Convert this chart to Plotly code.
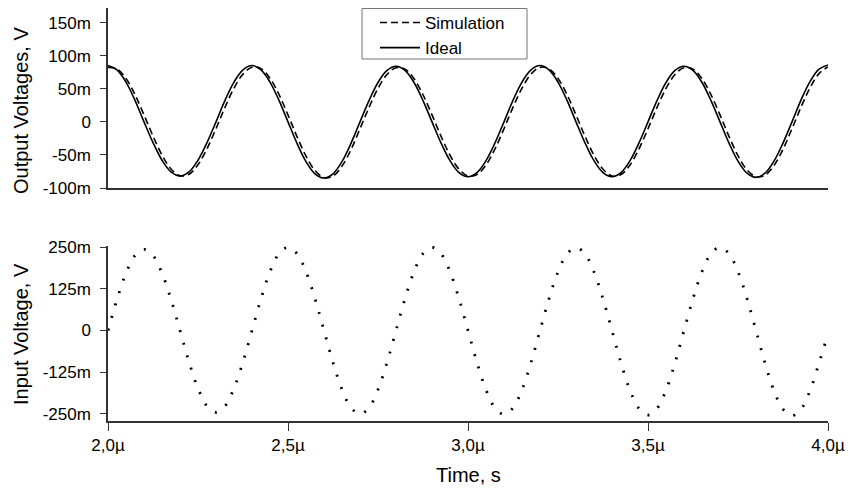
import plotly.graph_objects as go

# Time axis in microseconds
t_us = [2.000, 2.025, 2.050, 2.075, 2.100, 2.125, 2.150, 2.175, 2.200, 2.225, 2.250, 2.275, 2.300, 2.325, 2.350, 2.375,
        2.400, 2.425, 2.450, 2.475, 2.500, 2.525, 2.550, 2.575, 2.600, 2.625, 2.650, 2.675, 2.700, 2.725, 2.750, 2.775,
        2.800, 2.825, 2.850, 2.875, 2.900, 2.925, 2.950, 2.975, 3.000, 3.025, 3.050, 3.075, 3.100, 3.125, 3.150, 3.175,
        3.200, 3.225, 3.250, 3.275, 3.300, 3.325, 3.350, 3.375, 3.400, 3.425, 3.450, 3.475, 3.500, 3.525, 3.550, 3.575,
        3.600, 3.625, 3.650, 3.675, 3.700, 3.725, 3.750, 3.775, 3.800, 3.825, 3.850, 3.875, 3.900, 3.925, 3.950, 3.975,
        4.000]

# Output voltages (mV)
ideal_mv = [85, 78.5, 60.1, 32.5, 0, -31.4, -58.0, -75.8, -82, -75.8, -58.0, -31.4, 0, 32.5, 60.1, 78.5,
            85, 78.5, 60.1, 32.5, 0, -32.5, -60.1, -78.5, -85, -78.5, -60.1, -32.5, 0, 32.1, 59.4, 77.6,
            84, 77.6, 59.4, 32.1, 0, -31.8, -58.7, -76.7, -83, -76.7, -58.7, -31.8, 0, 32.5, 60.1, 78.5,
            85, 78.5, 60.1, 32.5, 0, -31.8, -58.7, -76.7, -83, -76.7, -58.7, -31.8, 0, 32.1, 59.4, 77.6,
            84, 77.6, 59.4, 32.1, 0, -32.1, -59.4, -77.6, -84, -77.6, -59.4, -32.1, 0, 32.9, 60.8, 79.5,
            86]

sim_mv = [82.0, 80.0, 65.5, 41.1, 10.4, -21.5, -50.2, -71.2, -81.4, -79.2, -64.8, -40.6, -10.4, 21.9, 50.9, 72.1,
          82.6, 80.4, 65.8, 41.3, 10.4, -22.3, -51.8, -73.6, -84.2, -81.9, -67.0, -42.1, -10.4, 21.7, 50.5, 71.6,
          81.8, 79.6, 65.2, 40.9, 10.4, -21.7, -50.5, -71.6, -81.8, -79.6, -65.2, -40.9, -10.4, 21.9, 50.9, 72.1,
          82.3, 80.1, 65.6, 41.2, 10.4, -21.7, -50.5, -71.6, -81.8, -79.6, -65.2, -40.9, -10.4, 21.7, 50.5, 71.6,
          81.8, 79.6, 65.2, 40.9, 10.4, -22.0, -51.2, -72.6, -82.9, -80.7, -66.1, -41.5, -10.4, 22.1, 51.3, 72.8,
          83.0]

# Input voltage (mV)
input_mv = [0, 93.4, 172.5, 225.4, 244, 225.4, 172.5, 93.4, 0, -94.2, -173.9, -227.3, -246, -227.3, -173.9, -94.2,
            0, 95.7, 176.8, 231.0, 250, 231.0, 176.8, 95.7, 0, -96.1, -177.5, -231.9, -251, -231.9, -177.5, -96.1,
            0, 95.7, 176.8, 231.0, 250, 231.0, 176.8, 95.7, 0, -96.5, -178.2, -232.8, -252, -232.8, -178.2, -96.5,
            0, 95.3, 176.0, 230.1, 249, 230.1, 176.0, 95.3, 0, -97.3, -179.6, -234.7, -254, -234.7, -179.6, -97.3,
            0, 95.7, 176.8, 231.0, 250, 231.0, 176.8, 95.7, 0, -98.0, -181.0, -236.5, -256, -236.5, -181.0, -98.0,
            -10]

top_tickvals = [150, 100, 50, 0, -50, -100]
top_ticktext = ["150m", "100m", "50m", "0", "-50m", "-100m"]
bot_tickvals = [250, 125, 0, -125, -250]
bot_ticktext = ["250m", "125m", "0", "-125m", "-250m"]
x_tickvals = [2.0, 2.5, 3.0, 3.5, 4.0]
x_ticktext = ["2,0µ", "2,5µ", "3,0µ", "3,5µ", "4,0µ"]

FONT = "Liberation Sans, Arial, sans-serif"
AX = "#333333"

fig = go.Figure()
fig.add_trace(go.Scatter(x=t_us, y=sim_mv, mode="lines", name="Simulation",
                         line=dict(color="black", width=1.6, dash="7px,4px", shape="spline"),
                         xaxis="x", yaxis="y"))
fig.add_trace(go.Scatter(x=t_us, y=ideal_mv, mode="lines", name="Ideal",
                         line=dict(color="black", width=1.6, shape="spline"),
                         xaxis="x", yaxis="y"))
fig.add_trace(go.Scatter(x=t_us, y=input_mv, mode="lines", name="Input",
                         line=dict(color="black", width=2.8, dash="2px,11px", shape="spline"),
                         xaxis="x2", yaxis="y2", showlegend=False))

L, R, T, B = 108, 21, 8, 69
H = 490 - T - B

def fy(py):
    return (490 - B - py) / H

def fx(px):
    return (px - L) / (849 - L - R)

fig.update_layout(
    width=849, height=490,
    margin=dict(l=L, r=R, t=T, b=B, autoexpand=False),
    paper_bgcolor="white", plot_bgcolor="white",
    font=dict(family=FONT, size=17, color="black"),
    showlegend=True,
    legend=dict(x=fx(375), y=fy(5), xanchor="left", yanchor="top",
                borderwidth=0, bgcolor="rgba(0,0,0,0)",
                font=dict(size=17), tracegroupgap=0, itemwidth=40),
    xaxis=dict(domain=[0, 1], range=[2.0, 4.0], anchor="y", showticklabels=False,
               ticks="", showline=True, linecolor=AX, linewidth=1.5, showgrid=False,
               zeroline=False, automargin=False),
    yaxis=dict(domain=[fy(188), 1.0], range=[-100, 172], anchor="x",
               tickvals=top_tickvals, ticktext=top_ticktext, ticks="outside",
               ticklen=6, tickwidth=1.3, tickcolor=AX, showline=True, linecolor=AX,
               linewidth=1.5, showgrid=False, zeroline=False, ticklabelstandoff=6,
               tickfont=dict(size=17), automargin=False),
    xaxis2=dict(domain=[0, 1], range=[2.0, 4.0], anchor="y2",
                tickvals=x_tickvals, ticktext=x_ticktext, ticks="outside",
                ticklen=8, tickwidth=1.3, tickcolor=AX, showline=True, linecolor=AX,
                linewidth=1.5, showgrid=False, zeroline=False,
                tickfont=dict(size=17), automargin=False),
    yaxis2=dict(domain=[0, fy(246)], range=[-272, 254], anchor="x2",
                tickvals=bot_tickvals, ticktext=bot_ticktext, ticks="outside",
                ticklen=6, tickwidth=1.3, tickcolor=AX, showline=True, linecolor=AX,
                linewidth=1.5, showgrid=False, zeroline=False, ticklabelstandoff=6,
                tickfont=dict(size=17), automargin=False),
    shapes=[
        dict(type="rect", xref="paper", yref="paper", x0=fx(362), x1=fx(527),
             y0=fy(59), y1=fy(8.5), line=dict(color="#777777", width=1),
             fillcolor="white", layer="below"),
    ],
    annotations=[
        dict(text="Output Voltages, V", xref="paper", yref="paper", x=fx(21), y=fy(111),
             xanchor="center", yanchor="middle", textangle=-90, showarrow=False,
             font=dict(size=20)),
        dict(text="Input Voltage, V", xref="paper", yref="paper", x=fx(21), y=fy(334),
             xanchor="center", yanchor="middle", textangle=-90, showarrow=False,
             font=dict(size=20)),
        dict(text="Time, s", xref="paper", yref="paper", x=fx(468), y=fy(475),
             xanchor="center", yanchor="middle", showarrow=False,
             font=dict(size=20)),
    ],
)

fig.write_html("out.html")
